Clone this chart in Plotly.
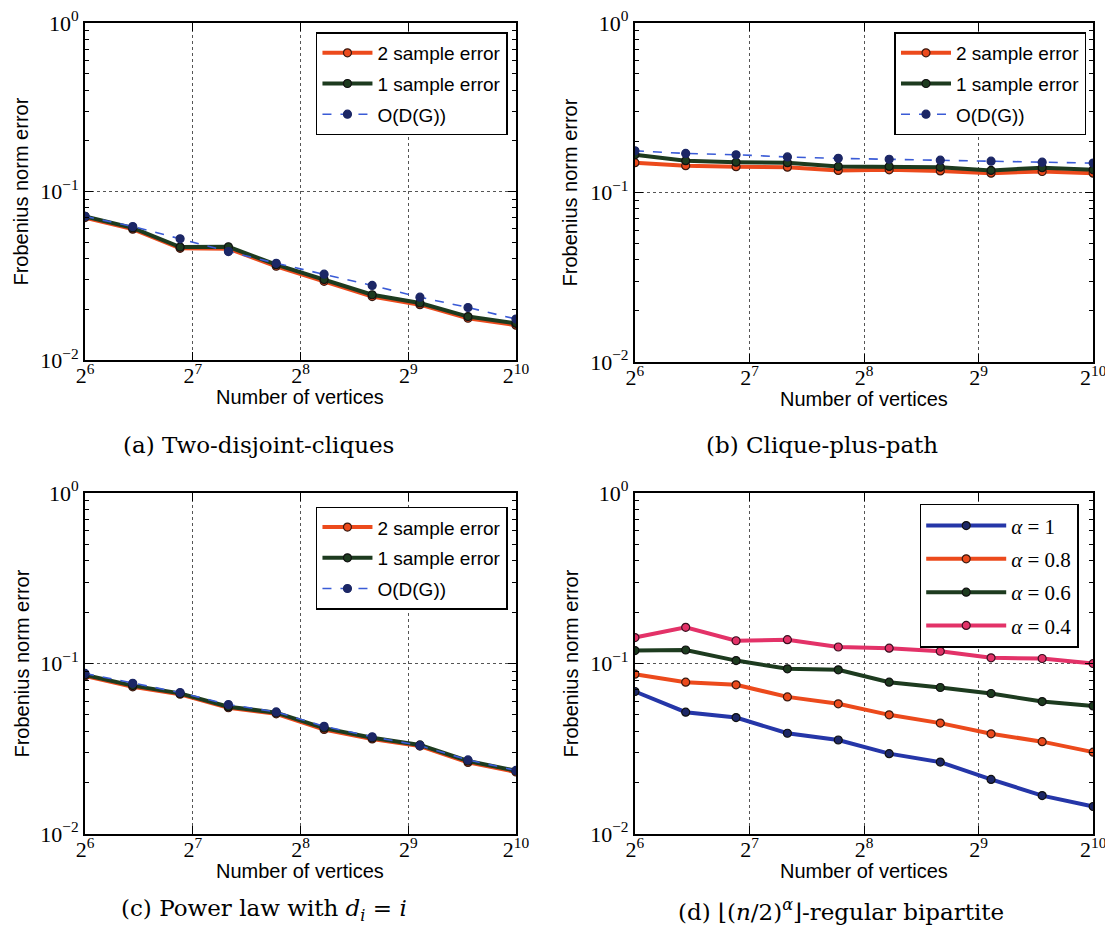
import plotly.graph_objects as go

# ---- data ----
vertices = [64, 87, 118, 161, 219, 298, 406, 552, 752, 1024]

a_two = [0.0700, 0.0598, 0.0460, 0.0458, 0.0360, 0.0293, 0.0238, 0.0213, 0.0177, 0.0161]
a_one = [0.0712, 0.0608, 0.0468, 0.0470, 0.0368, 0.0300, 0.0244, 0.0218, 0.0181, 0.0165]
a_odg = [0.0712, 0.0620, 0.0524, 0.0440, 0.0375, 0.0323, 0.0277, 0.0236, 0.0205, 0.0175]

b_two = [0.150, 0.144, 0.142, 0.141, 0.135, 0.136, 0.134, 0.130, 0.133, 0.130]
b_one = [0.167, 0.154, 0.151, 0.150, 0.1425, 0.1425, 0.141, 0.135, 0.140, 0.136]
b_odg = [0.176, 0.170, 0.167, 0.162, 0.159, 0.157, 0.155, 0.153, 0.151, 0.149]

c_two = [0.0845, 0.0730, 0.0660, 0.0550, 0.0507, 0.0410, 0.0361, 0.0328, 0.0263, 0.0231]
c_one = [0.0858, 0.0742, 0.0668, 0.0558, 0.0515, 0.0418, 0.0367, 0.0333, 0.0268, 0.0235]
c_odg = [0.0875, 0.0765, 0.0675, 0.0575, 0.0520, 0.0428, 0.0372, 0.0330, 0.0272, 0.0236]

d_a1 = [0.0685, 0.0518, 0.0482, 0.0390, 0.0356, 0.0296, 0.0264, 0.0209, 0.0168, 0.0145]
d_a08 = [0.0866, 0.0777, 0.0750, 0.0637, 0.0580, 0.0500, 0.0447, 0.0387, 0.0348, 0.0302]
d_a06 = [0.119, 0.120, 0.104, 0.0931, 0.0918, 0.0777, 0.0723, 0.0667, 0.0598, 0.0564]
d_a04 = [0.142, 0.163, 0.136, 0.138, 0.125, 0.123, 0.118, 0.108, 0.107, 0.100]

xtick_vals = [64, 128, 256, 512, 1024]
xtick_text = ["2<sup>6</sup>", "2<sup>7</sup>", "2<sup>8</sup>", "2<sup>9</sup>", "2<sup>10</sup>"]
ytick_vals = [0.01, 0.1, 1]
ytick_text = ["10<sup>\u22122</sup>", "10<sup>\u22121</sup>", "10<sup>0</sup>"]
yminor_vals = [0.02, 0.03, 0.04, 0.05, 0.06, 0.07, 0.08, 0.09,
               0.2, 0.3, 0.4, 0.5, 0.6, 0.7, 0.8, 0.9]

x_title = "Number of vertices"
y_title = "Frobenius norm error"
captions = ["(a) Two-disjoint-cliques", "(b) Clique-plus-path",
            "(c) Power law with <i>d</i><sub><i>i</i></sub> = <i>i</i>",
            "(d) \u230a(<i>n</i>/2)<sup><i>\u03b1</i></sup>\u230b-regular bipartite"]

RED = "#ec4a1c"
GREEN = "#1d3b1f"
BLUE_D = "#3a5bd6"
NAVY = "#1c2766"
BLUE = "#2536a8"
PINK = "#e33268"

fig = go.Figure()

left = [0.0692, 0.4564]
right = [0.5633, 0.9750]
top_l = [0.6259, 0.9841]
top_r = [0.6238, 0.9841]
bot = [0.1222, 0.4846]
panels = [(left, top_l), (right, top_r), (left, bot), (right, bot)]

cnt = [0]
def add_line(idx, y, name, color, width, dash, mcolor, mline, legend):
    xa = "x" if idx == 1 else f"x{idx}"
    ya = "y" if idx == 1 else f"y{idx}"
    cnt[0] += 1
    fig.add_trace(go.Scatter(
        x=vertices, y=y, name=name, mode="lines+markers",
        line=dict(color=color, width=width, dash=dash),
        marker=dict(size=8, color=mcolor, line=dict(color=mline, width=1.2)),
        xaxis=xa, yaxis=ya, legend=legend, legendgroup=f"g{cnt[0]}"))

sets = [(a_two, a_one, a_odg), (b_two, b_one, b_odg), (c_two, c_one, c_odg)]
for i, (t2, t1, od) in enumerate(sets, start=1):
    lg = "legend" if i == 1 else f"legend{i}"
    add_line(i, t2, "2 sample error", RED, 4, "solid", RED, "#3a1a10", lg)
    add_line(i, t1, "1 sample error", GREEN, 4, "solid", GREEN, "#111", lg)
    add_line(i, od, "O(D(G))", BLUE_D, 1.6, "dash", NAVY, NAVY, lg)

add_line(4, d_a1, "<i>\u03b1</i> = 1", BLUE, 4, "solid", NAVY, "#111", "legend4")
add_line(4, d_a08, "<i>\u03b1</i> = 0.8", RED, 4, "solid", RED, "#3a1a10", "legend4")
add_line(4, d_a06, "<i>\u03b1</i> = 0.6", GREEN, 4, "solid", GREEN, "#111", "legend4")
add_line(4, d_a04, "<i>\u03b1</i> = 0.4", PINK, 4, "solid", PINK, "#3a1020", "legend4")

layout = dict(width=1113, height=941, margin=dict(l=0, r=0, t=0, b=0),
              paper_bgcolor="white", plot_bgcolor="white", showlegend=True)

tickfont = dict(family="Liberation Serif, DejaVu Serif, serif", size=22, color="black")
titlefont = dict(family="Liberation Sans, Arial, sans-serif", size=20, color="black")

for i, (xd, yd) in enumerate(panels, start=1):
    xk = "xaxis" if i == 1 else f"xaxis{i}"
    yk = "yaxis" if i == 1 else f"yaxis{i}"
    xa = "x" if i == 1 else f"x{i}"
    ya = "y" if i == 1 else f"y{i}"
    layout[xk] = dict(domain=xd, anchor=ya, type="log", range=[1.80618, 3.0103],
                      tickvals=xtick_vals, ticktext=xtick_text, tickfont=tickfont,
                      ticks="inside", ticklen=8, tickcolor="black", mirror="allticks",
                      showline=True, linecolor="black", linewidth=2,
                      showgrid=True, gridcolor="#555", griddash="dot", gridwidth=1,
                      ticklabeloverflow="allow", ticklabelstandoff=-5,
                      zeroline=False, automargin=False)
    layout[yk] = dict(domain=yd, anchor=xa, type="log", range=[-2, 0],
                      tickvals=ytick_vals, ticktext=ytick_text, tickfont=tickfont,
                      ticks="inside", ticklen=8, tickcolor="black", mirror="allticks",
                      showline=True, linecolor="black", linewidth=2,
                      showgrid=True, gridcolor="#555", griddash="dot", gridwidth=1,
                      ticklabeloverflow="allow",
                      minor=dict(tickmode="array", tickvals=yminor_vals, ticks="inside",
                                 ticklen=4, tickcolor="black", showgrid=False),
                      zeroline=False, automargin=False)

legfont = dict(family="Liberation Sans, Arial, sans-serif", size=19, color="black")
legpos = [(0.4492, 0.9740), (0.9690, 0.9740), (0.4492, 0.4700), (0.9620, 0.4730)]
for i, (lx, ly) in enumerate(legpos, start=1):
    lk = "legend" if i == 1 else f"legend{i}"
    if i < 4:
        f, iw = legfont, 50
    else:
        f, iw = dict(family="Liberation Serif, DejaVu Serif, serif", size=21, color="black"), 80
    layout[lk] = dict(x=lx, y=ly, xanchor="right", yanchor="top", bgcolor="white",
                      bordercolor="black", borderwidth=1.5, font=f, itemwidth=iw,
                      tracegroupgap=3)

anns = []
capfont = dict(family="DejaVu Serif, Liberation Serif, serif", size=23, color="black")
cap_pos = [(0.2255, 0.536), (0.7310, 0.536), (0.2300, 0.041), (0.7480, 0.041)]
for (cx, cy), txt in zip(cap_pos, captions):
    anns.append(dict(x=cx, y=cy, xref="paper", yref="paper", text=txt, showarrow=False,
                     font=capfont, xanchor="center", yanchor="middle"))

for (xd, yd) in panels:
    bot_px = (1 - yd[0]) * 941
    xc = (xd[0] + xd[1]) / 2
    # x-axis title
    anns.append(dict(x=xc, y=1 - (bot_px + 37) / 941, xref="paper", yref="paper",
                     text=x_title, showarrow=False, font=titlefont,
                     xanchor="center", yanchor="middle"))
    # y-axis title
    anns.append(dict(x=(xd[0] * 1113 - 64) / 1113, y=(yd[0] + yd[1]) / 2, xref="paper", yref="paper",
                     text=y_title, showarrow=False, font=titlefont, textangle=-90,
                     xanchor="center", yanchor="middle"))
layout["annotations"] = anns

fig.update_layout(**layout)
fig.write_html("out.html")
